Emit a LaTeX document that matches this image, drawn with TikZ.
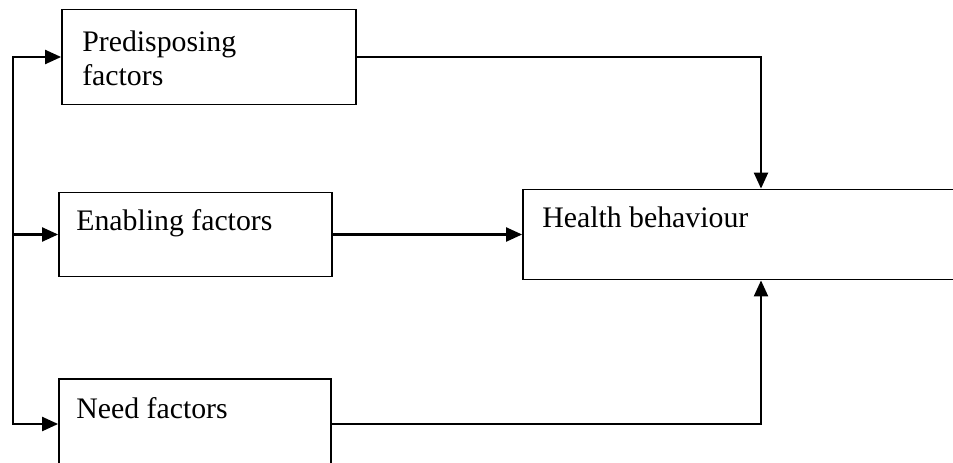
\documentclass[tikz,border=0pt]{standalone}
\usepackage{fontspec}
\setmainfont{Liberation Serif}
\usetikzlibrary{arrows.meta, positioning, calc}

\begin{document}
\begin{tikzpicture}[x=1pt, y=1pt,
    factorbox/.style={draw=black, line width=1.8pt, inner sep=0pt},
    boxtext/.style={font=\fontsize{29.8}{34}\selectfont, inner sep=0pt, align=left, anchor=base west},
    link/.style={line width=2.2pt, -{Triangle[length=16pt, width=14pt]}}]
  \useasboundingbox (0,0) rectangle (953,-463);
  \clip (0,0) rectangle (953,-463);
  % Cajas de factores
  \node[factorbox, minimum width=294pt, minimum height=95pt] (pre) at (209,-57) {};
  \node[factorbox, minimum width=273pt, minimum height=84pt] (ena) at (195.5,-234.5) {};
  \node[factorbox, minimum width=272pt, minimum height=90pt] (need) at (195,-424) {};
  \node[factorbox, minimum width=476pt, minimum height=90pt] (hb) at (761,-234.5) {};
  % Textos
  \node[boxtext] (pretext) at ([shift={(21,-77)}]pre.north west) {Predisposing\\factors};
  \node[boxtext] (enatext) at ([shift={(18,-39)}]ena.north west) {Enabling factors};
  \node[boxtext] (needtext) at ([shift={(18,-40)}]need.north west) {Need factors};
  \node[boxtext] (hbtext) at ([shift={(20,-39)}]hb.north west) {Health behaviour};
  % Colector izquierdo
  \coordinate (bus) at (13,0);
  \draw[link] (ena.west -| bus) |- (pre.west);
  \draw[link] (ena.west -| bus) |- (need.west);
  \draw[link] (ena.west -| bus) -- (ena.west);
  % Hacia la conducta
  \draw[link] (pre.east) -| (hb.north);
  \draw[link] (ena.east) -- (hb.west);
  \draw[link] (need.east) -| (hb.south);
\end{tikzpicture}
\end{document}
